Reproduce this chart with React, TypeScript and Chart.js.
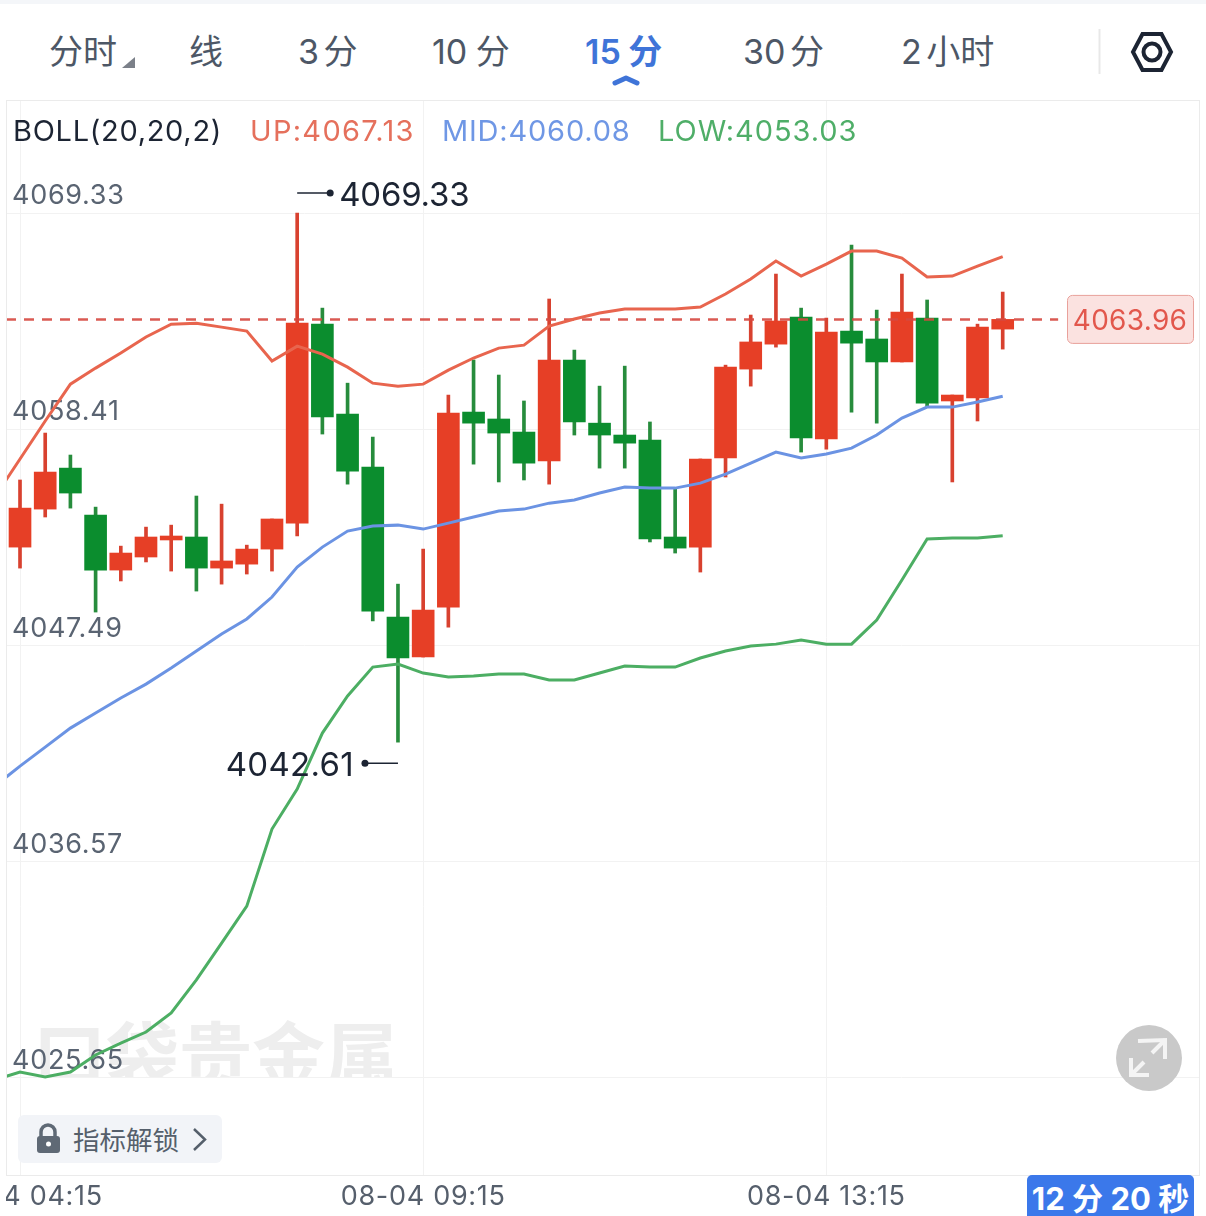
import React, { useEffect, useRef } from "react";
import { Chart, registerables } from "chart.js";

Chart.register(...registerables);

const xTickIndex = [0, 16, 32];
const xTickLabels = ["08-04 04:15", "08-04 09:15", "08-04 13:15"];
const yTickValues = [4069.33, 4058.41, 4047.49, 4036.57, 4025.65];

const candleOpen = [4052.46, 4054.38, 4056.45, 4054.08, 4051.30, 4051.96, 4052.82, 4052.97, 4051.40, 4051.60, 4052.36, 4053.67, 4063.72, 4059.18, 4056.50, 4048.93, 4046.91, 4049.43, 4059.28, 4058.93, 4058.27, 4056.81, 4061.91, 4058.72, 4058.12, 4057.87, 4052.97, 4052.46, 4056.96, 4061.45, 4062.71, 4064.08, 4057.92, 4063.37, 4062.97, 4061.81, 4064.03, 4059.84, 4059.99, 4063.47];
const candleClose = [4054.43, 4056.25, 4055.19, 4051.30, 4052.16, 4052.97, 4053.02, 4051.40, 4051.76, 4052.36, 4053.88, 4063.77, 4059.03, 4056.30, 4049.23, 4046.86, 4049.28, 4059.23, 4058.72, 4058.22, 4056.70, 4061.91, 4058.78, 4058.12, 4057.71, 4052.87, 4052.41, 4056.91, 4061.55, 4062.82, 4063.88, 4057.97, 4063.32, 4062.76, 4061.81, 4064.33, 4059.73, 4060.14, 4063.57, 4063.96];
const candleHigh = [4055.85, 4058.22, 4057.11, 4054.48, 4052.51, 4053.47, 4053.57, 4055.04, 4054.63, 4052.56, 4053.88, 4069.33, 4064.53, 4060.74, 4058.02, 4050.59, 4052.36, 4060.14, 4061.91, 4061.15, 4059.84, 4064.99, 4062.41, 4060.59, 4061.60, 4058.78, 4055.44, 4056.91, 4061.65, 4064.18, 4066.25, 4064.53, 4064.03, 4067.71, 4064.43, 4066.25, 4064.94, 4060.14, 4063.72, 4065.34];
const candleLow = [4051.40, 4053.98, 4054.43, 4049.18, 4050.75, 4051.71, 4051.25, 4050.24, 4050.59, 4051.10, 4051.25, 4053.02, 4058.17, 4055.64, 4048.73, 4042.61, 4046.91, 4048.42, 4056.65, 4055.75, 4055.85, 4055.64, 4058.12, 4056.45, 4056.45, 4052.72, 4052.16, 4051.20, 4056.00, 4060.59, 4062.56, 4057.26, 4057.41, 4059.28, 4058.72, 4061.81, 4059.53, 4055.75, 4058.83, 4062.46];

// The Bollinger lines start one bar before the first visible candle.
const bollUp = [4054.99, 4056.91, 4058.83, 4060.69, 4061.50, 4062.26, 4063.07, 4063.72, 4063.77, 4063.57, 4063.37, 4061.86, 4062.61, 4062.21, 4061.55, 4060.74, 4060.59, 4060.69, 4061.40, 4062.01, 4062.51, 4062.66, 4063.62, 4063.98, 4064.28, 4064.48, 4064.48, 4064.48, 4064.58, 4065.24, 4066.00, 4066.91, 4066.15, 4066.75, 4067.41, 4067.41, 4067.06, 4066.10, 4066.15, 4066.65, 4067.13];
const bollMid = [4040.39, 4041.40, 4042.36, 4043.32, 4044.08, 4044.84, 4045.54, 4046.35, 4047.21, 4048.07, 4048.83, 4049.94, 4051.45, 4052.46, 4053.27, 4053.52, 4053.57, 4053.37, 4053.67, 4053.98, 4054.28, 4054.38, 4054.68, 4054.84, 4055.19, 4055.49, 4055.44, 4055.44, 4055.69, 4056.15, 4056.70, 4057.26, 4056.96, 4057.16, 4057.46, 4058.12, 4058.98, 4059.53, 4059.53, 4059.79, 4060.08];
const bollLow = [4025.55, 4025.95, 4025.70, 4025.95, 4026.81, 4027.41, 4027.97, 4028.93, 4030.60, 4032.46, 4034.33, 4038.22, 4040.24, 4043.07, 4044.94, 4046.40, 4046.55, 4046.10, 4045.90, 4045.95, 4046.05, 4046.05, 4045.75, 4045.75, 4046.10, 4046.45, 4046.40, 4046.40, 4046.86, 4047.21, 4047.46, 4047.56, 4047.77, 4047.56, 4047.56, 4048.78, 4050.80, 4052.87, 4052.92, 4052.92, 4053.03];

const lastPrice = 4063.96;
const highIndex = 11;
const lowIndex = 15;

const legendName = "BOLL(20,20,2)";
const legendUp = "UP:4067.13";
const legendMid = "MID:4060.08";
const legendLow = "LOW:4053.03";

const tabs: [string, number, boolean][] = [
  ["分时", 49, false],
  ["线", 189, false],
  ["3 分", 298, false],
  ["10 分", 432, false],
  ["15 分", 585, true],
  ["30 分", 743, false],
  ["2 小时", 901, false],
];

const FONT = "Inter, 'Noto Sans CJK SC', sans-serif";
const RED = "#e63f26";
const RED_WICK = "#d8412f";
const GREEN = "#0b8d2e";
const GREEN_WICK = "#278c3c";
const INK = "#1c2433";

const decorations = {
  id: "decorations",
  beforeDraw(chart: any) {
    chart.ctx.letterSpacing = "0.7px";
  },
  afterDatasetsDraw(chart: any) {
    const { ctx, chartArea: a, scales } = chart;
    const x = scales.x;
    const y = scales.y;
    ctx.save();
    ctx.strokeStyle = "#ebebeb";
    ctx.lineWidth = 1;
    ctx.strokeRect(a.left + 0.5, a.top + 0.5, a.right - a.left - 1, a.bottom - a.top);

    ctx.letterSpacing = "-0.2px";
    ctx.font = `33px ${FONT}`;
    ctx.textBaseline = "middle";
    ctx.fillStyle = INK;
    ctx.strokeStyle = INK;
    ctx.lineWidth = 1.5;

    const hx = x.getPixelForValue(highIndex);
    const hy = y.getPixelForValue(candleHigh[highIndex]) - 20;
    ctx.beginPath();
    ctx.moveTo(hx, hy);
    ctx.lineTo(hx + 33, hy);
    ctx.stroke();
    ctx.beginPath();
    ctx.arc(hx + 33, hy, 3.5, 0, Math.PI * 2);
    ctx.fill();
    ctx.textAlign = "left";
    ctx.fillText(candleHigh[highIndex].toFixed(2), hx + 42, hy + 3);

    const lx = x.getPixelForValue(lowIndex);
    const ly = y.getPixelForValue(candleLow[lowIndex]) + 21;
    ctx.beginPath();
    ctx.moveTo(lx, ly);
    ctx.lineTo(lx - 33, ly);
    ctx.stroke();
    ctx.beginPath();
    ctx.arc(lx - 33, ly, 3.5, 0, Math.PI * 2);
    ctx.fill();
    ctx.textAlign = "right";
    ctx.letterSpacing = "0.3px";
    ctx.fillText(candleLow[lowIndex].toFixed(2), lx - 44, ly + 3);

    const py = y.getPixelForValue(lastPrice);
    ctx.beginPath();
    ctx.roundRect(1061.5, py - 24, 126, 48, 5);
    ctx.fillStyle = "#fbe2e0";
    ctx.fill();
    ctx.strokeStyle = "#e9a19b";
    ctx.lineWidth = 1;
    ctx.stroke();
    ctx.fillStyle = "#e2574c";
    ctx.font = `28px ${FONT}`;
    ctx.letterSpacing = "0.3px";
    ctx.textAlign = "center";
    ctx.fillText(lastPrice.toFixed(2), 1124, py + 2);
    ctx.restore();
  },
};

function Txt({ x, y, size, color, weight, spacing, word, children }: any) {
  return (
    <div
      style={{
        position: "absolute",
        left: x,
        top: y,
        transform: "translateY(-50%)",
        fontFamily: FONT,
        fontSize: size,
        color,
        fontWeight: weight || 400,
        letterSpacing: spacing || 0,
        wordSpacing: word || 0,
        lineHeight: 1,
        whiteSpace: "nowrap",
      }}
    >
      {children}
    </div>
  );
}

export default function App() {
  const ref = useRef<HTMLCanvasElement>(null);

  useEffect(() => {
    document.body.style.margin = "0";
    document.body.style.background = "#fff";
    const chart = new Chart(ref.current as any, {
      type: "bar",
      data: {
        datasets: [
          {
            type: "line",
            data: bollUp.map((v, i) => ({ x: i - 1, y: v })),
            borderColor: "#e8654e",
            borderWidth: 3,
            pointRadius: 0,
            tension: 0,
            order: 0,
          },
          {
            type: "line",
            data: bollMid.map((v, i) => ({ x: i - 1, y: v })),
            borderColor: "#6b93e3",
            borderWidth: 3,
            pointRadius: 0,
            tension: 0,
            order: 0,
          },
          {
            type: "line",
            data: bollLow.map((v, i) => ({ x: i - 1, y: v })),
            borderColor: "#4cae63",
            borderWidth: 3,
            pointRadius: 0,
            tension: 0,
            order: 0,
          },
          {
            type: "line",
            data: [
              { x: -0.556, y: lastPrice },
              { x: 41.2, y: lastPrice },
            ],
            borderColor: "rgba(214,72,64,0.9)",
            borderWidth: 2.5,
            borderDash: [10, 8],
            pointRadius: 0,
            order: 0.5,
          },
          {
            data: candleOpen.map((o, i) => ({
              x: i,
              y: [Math.min(o, candleClose[i]), Math.max(o, candleClose[i])],
            })),
            backgroundColor: candleOpen.map((o, i) => (candleClose[i] >= o ? RED : GREEN)),
            barThickness: 22,
            grouped: false,
            order: 1,
          },
          {
            data: candleHigh.map((h, i) => ({ x: i, y: [candleLow[i], h] })),
            backgroundColor: candleOpen.map((o, i) => (candleClose[i] >= o ? RED_WICK : GREEN_WICK)),
            barThickness: 3,
            grouped: false,
            order: 2,
          },
        ],
      } as any,
      options: {
        responsive: false,
        animation: false,
        events: [],
        layout: { padding: 0 },
        plugins: { legend: { display: false }, tooltip: { enabled: false } },
        scales: {
          x: {
            type: "linear",
            min: -0.556,
            max: 46.83,
            offset: false,
            afterBuildTicks: (s: any) => {
              s.ticks = xTickIndex.map((v) => ({ value: v }));
            },
            afterFit: (s: any) => {
              s.height = 41;
              s.paddingLeft = 0;
              s.paddingRight = 0;
            },
            grid: { color: "#f2f2f2", offset: false, drawTicks: false, lineWidth: 1 },
            border: { display: false },
            ticks: {
              autoSkip: false,
              maxRotation: 0,
              padding: 6,
              color: "#565f6c",
              font: { family: FONT, size: 27 },
              callback: (v: any) => xTickLabels[xTickIndex.indexOf(v)],
            },
          },
          y: {
            type: "linear",
            min: 4020.75,
            max: 4075.04,
            afterBuildTicks: (s: any) => {
              s.ticks = yTickValues.map((v) => ({ value: v }));
            },
            afterFit: (s: any) => {
              s.width = 0;
              s.paddingTop = 0;
              s.paddingBottom = 0;
            },
            grid: { color: "#f2f2f2", drawTicks: false, lineWidth: 1 },
            border: { display: false },
            ticks: {
              mirror: true,
              padding: 6,
              labelOffset: -17,
              color: "#5a6472",
              font: { family: FONT, size: 27 },
              callback: (v: any) => Number(v).toFixed(2),
            },
          },
        },
      } as any,
      plugins: [decorations],
    });
    return () => chart.destroy();
  }, []);

  return (
    <div style={{ position: "relative", width: 1206, height: 1216, overflow: "hidden", background: "#fff" }}>
      <div style={{ position: "absolute", left: 0, top: 0, width: 1206, height: 4, background: "#f4f6f9" }} />
      {tabs.map(([t, x, active]) => (
        <Txt key={t} x={x} y={52} size={34} word={t.startsWith("1") ? -1 : -5} color={active ? "#3f74d8" : "#4d5766"} weight={active ? 600 : 400}>
          {t}
        </Txt>
      ))}
      <svg style={{ position: "absolute", left: 0, top: 0 }} width={1206} height={100}>
        <polygon points="135,57 135,68 122,68" fill="#7b8089" />
        <polyline points="615,83 626,78 637,83" fill="none" stroke="#3f74d8" strokeWidth={5} strokeLinecap="round" strokeLinejoin="round" />
        <line x1={1099.5} y1={29} x2={1099.5} y2={74} stroke="#e8e8e8" strokeWidth={2} />
        <polygon points="1133,52 1142.5,34 1161.5,34 1171,52 1161.5,70 1142.5,70" fill="none" stroke="#1c2433" strokeWidth={4} />
        <circle cx={1152} cy={52} r={8.5} fill="none" stroke="#1c2433" strokeWidth={4} />
      </svg>

      <div
        style={{
          position: "absolute",
          left: 33,
          top: 1011,
          height: 67,
          overflow: "hidden",
          fontFamily: "'Noto Sans CJK SC'",
          fontWeight: 700,
          fontSize: 73,
          lineHeight: "80px",
          color: "#eeeeee",
          whiteSpace: "nowrap",
        }}
      >
        口袋贵金属
      </div>

      <div style={{ position: "absolute", left: 6, top: 100, width: 1194, height: 1116 }}>
        <canvas ref={ref} width={1194} height={1116} style={{ display: "block" }} />
      </div>

      <Txt x={13} y={130} size={29} spacing={0.7} color={INK}>{legendName}</Txt>
      <Txt x={250} y={130} size={29} spacing={1.3} color="#e5705c">{legendUp}</Txt>
      <Txt x={442} y={130} size={29} spacing={0.8} color="#6f97e5">{legendMid}</Txt>
      <Txt x={658} y={130} size={29} spacing={0.95} color="#4fae68">{legendLow}</Txt>

      <div style={{ position: "absolute", left: 18, top: 1115, width: 204, height: 48, background: "#f2f4f8", borderRadius: 6 }} />
      <svg style={{ position: "absolute", left: 30, top: 1120 }} width={36} height={40}>
        <path d="M11 17 V12 a7 7 0 0 1 14 0 V17" fill="none" stroke="#5f6975" strokeWidth={3.5} />
        <rect x={7} y={16} width={23} height={17} rx={3} fill="#5f6975" />
        <circle cx={18.5} cy={24} r={2.5} fill="#fff" />
      </svg>
      <Txt x={73} y={1140} size={26.5} color="#555f6b">指标解锁</Txt>
      <svg style={{ position: "absolute", left: 190, top: 1126 }} width={20} height={28}>
        <polyline points="4,3 15,13.5 4,24" fill="none" stroke="#555f6b" strokeWidth={2.5} />
      </svg>

      <svg style={{ position: "absolute", left: 1116, top: 1025 }} width={66} height={66}>
        <circle cx={33} cy={33} r={33} fill="#c9c9c9" />
        <g fill="none" stroke="#f4f4f4" strokeWidth={4}>
          <polyline points="22,16 49,15 49,34" />
          <line x1={49} y1={15} x2={36} y2={28} />
          <polyline points="15,33 15,50 33,50" />
          <line x1={15} y1={50} x2={28} y2={37} />
        </g>
      </svg>

      <div
        style={{
          position: "absolute",
          left: 1027,
          top: 1175,
          width: 167,
          height: 41,
          background: "#3b78ea",
          borderRadius: "5px 5px 0 0",
          color: "#fff",
          fontFamily: FONT,
          fontWeight: 700,
          fontSize: 31,
          lineHeight: "47px",
          textAlign: "center",
          whiteSpace: "nowrap",
          overflow: "hidden",
        }}
      >
        12 分 20 秒
      </div>
    </div>
  );
}
